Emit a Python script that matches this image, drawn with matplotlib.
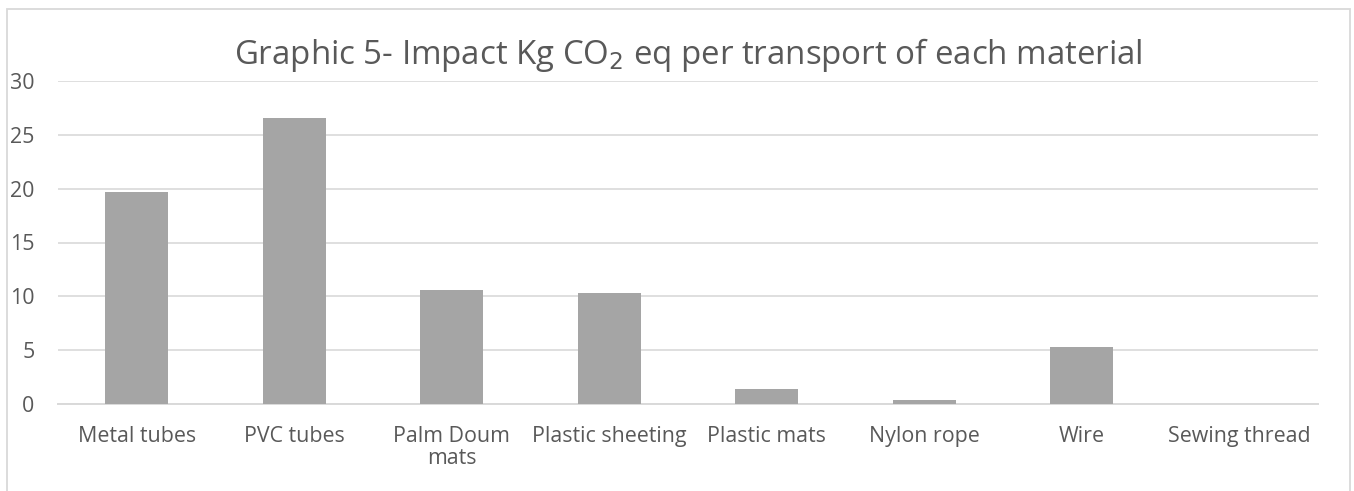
import matplotlib
matplotlib.use("Agg")
import matplotlib.pyplot as plt
from matplotlib.patches import Rectangle

plt.rcParams['font.family'] = ['Open Sans', 'DejaVu Sans']

categories = ["Metal tubes", "PVC tubes", "Palm Doum\nmats", "Plastic sheeting",
              "Plastic mats", "Nylon rope", "Wire", "Sewing thread"]
values = [19.7, 26.6, 10.55, 10.3, 1.42, 0.37, 5.25, 0.0]
yticks = [0, 5, 10, 15, 20, 25, 30]

W, H = 1354, 491
fig = plt.figure(figsize=(W / 100, H / 100), dpi=100)
fig.patch.set_facecolor("white")

# chart border
fig.add_artist(Rectangle((7 / W, -0.05), (1350 - 7) / W, 1.05 - 9 / H,
                         transform=fig.transFigure, fill=False,
                         edgecolor="#d9d9d9", linewidth=1.3))

ax = fig.add_axes([58 / W, (H - 404) / H, (1318 - 58) / W, (404 - 81) / H])
x = range(len(categories))
ax.bar(x, values, width=0.4, color="#a5a5a5", zorder=3)

ax.set_xlim(-0.5, len(categories) - 0.5)
ax.set_ylim(0, 30)
ax.set_yticks(yticks)
ax.set_yticklabels([str(t) for t in yticks])
ax.set_xticks(list(x))
ax.set_xticklabels(categories, linespacing=1.1)

ax.grid(axis="y", color="#d9d9d9", linewidth=1.2, zorder=0)
ax.set_axisbelow(True)
for s in ["top", "right", "left"]:
    ax.spines[s].set_visible(False)
ax.spines["bottom"].set_color("#d9d9d9")
ax.spines["bottom"].set_linewidth(1.4)

ax.tick_params(axis="both", length=0, labelsize=15.4, colors="#595959")
ax.tick_params(axis="y", pad=17)
ax.tick_params(axis="x", pad=15.5)
for lbl in ax.get_yticklabels():
    lbl.set_horizontalalignment("right")

fig.text(688 / W, (H - 55) / H,
         "Graphic 5- Impact Kg CO$_2$ eq per transport of each material",
         ha="center", va="center", fontsize=23.8, color="#595959")

fig.savefig("out.png", dpi=100, facecolor="white")
